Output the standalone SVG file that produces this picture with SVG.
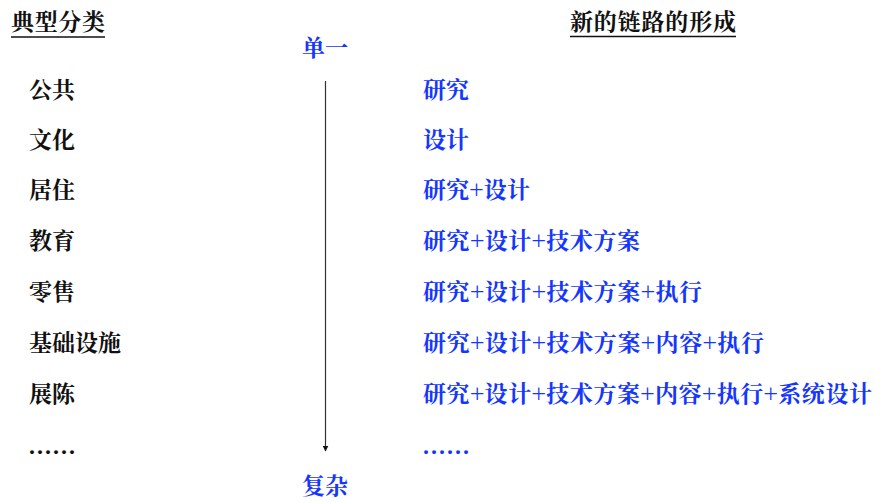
<svg xmlns="http://www.w3.org/2000/svg" width="880" height="502" viewBox="0 0 880 502">
<style>
text{font-family:"Noto Serif CJK SC","Noto Sans CJK SC","Liberation Serif",serif;font-weight:bold;font-size:23px}
.k{fill:#111}
.b{fill:#1436ff}
.u{stroke:#111;stroke-width:1.5}
.d{font-family:"Liberation Serif",serif;font-size:24px;letter-spacing:2px}
</style>
<defs>
<marker id="ah" viewBox="0 0 10 10" refX="9" refY="5" markerWidth="5" markerHeight="5" orient="auto"><path d="M0,0L10,5L0,10z" fill="#111"/></marker>
</defs>
<rect width="880" height="502" fill="#fff"/>
<g id="title-left"><text class="k" x="11" y="30" textLength="94">典型分类</text><line class="u" x1="11" y1="37" x2="105" y2="37"/></g>
<g id="title-right"><text class="k" x="570" y="30" textLength="166">新的链路的形成</text><line class="u" x1="570" y1="36.5" x2="736" y2="36.5"/></g>
<g id="top-label"><text class="b" x="302" y="56">单一</text></g>
<g id="bottom-label"><text class="b" x="302" y="494">复杂</text></g>
<g id="connectors"><line x1="325.5" y1="81" x2="325.5" y2="451" stroke="#333" stroke-width="1.2" marker-end="url(#ah)"/></g>
<g id="left-list">
<text class="k" x="29" y="98">公共</text>
<text class="k" x="29" y="148">文化</text>
<text class="k" x="29" y="198">居住</text>
<text class="k" x="29" y="249">教育</text>
<text class="k" x="29" y="300">零售</text>
<text class="k" x="29" y="351">基础设施</text>
<text class="k" x="29" y="402">展陈</text>
<text class="k d" x="29" y="454">......</text>
</g>
<g id="right-list">
<text class="b" x="423" y="98">研究</text>
<text class="b" x="423" y="148">设计</text>
<text class="b" x="423" y="198" textLength="107">研究+设计</text>
<text class="b" x="423" y="249" textLength="217">研究+设计+技术方案</text>
<text class="b" x="423" y="300" textLength="279">研究+设计+技术方案+执行</text>
<text class="b" x="423" y="351" textLength="341">研究+设计+技术方案+内容+执行</text>
<text class="b" x="423" y="402" textLength="449">研究+设计+技术方案+内容+执行+系统设计</text>
<text class="b d" x="423" y="454">......</text>
</g>
</svg>
